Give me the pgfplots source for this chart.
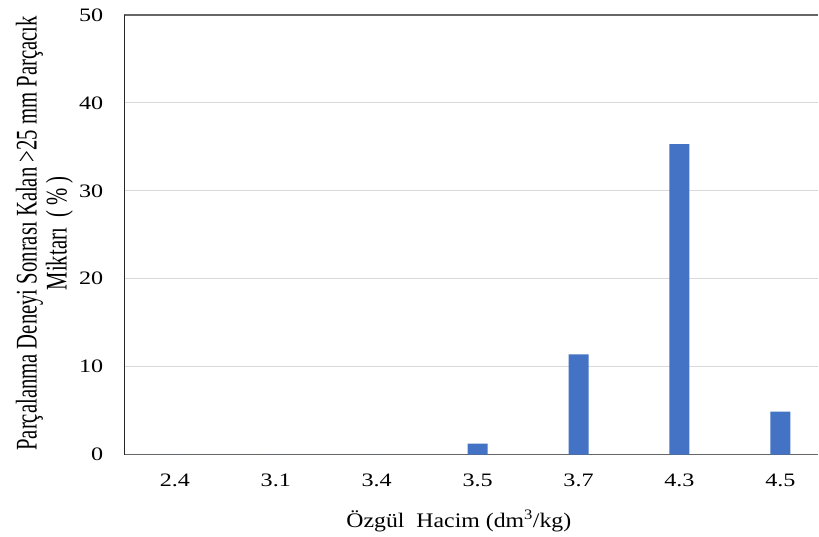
\documentclass[border=0pt]{standalone}
\usepackage{fontspec}
\setmainfont{Liberation Serif}
\newfontfamily\tickfont[FakeStretch=1.27]{Liberation Serif}
\newfontfamily\xlabfont[FakeStretch=1.15]{Liberation Serif}
\newfontfamily\ylabfont[FakeStretch=0.69]{Liberation Serif}
\usepackage{pgfplots}
\pgfplotsset{compat=1.18}
\definecolor{barblue}{HTML}{4472C4}
\begin{document}
\begin{tikzpicture}
\begin{axis}[
  scale only axis, width=694.5bp, height=440bp,
  xmin=-0.5, xmax=6.376, ymin=0, ymax=50,
  xtick={0,1,2,3,4,5,6},
  xticklabels={2.4,3.1,3.4,3.5,3.7,4.3,4.5},
  ytick={0,10,20,30,40,50},
  major tick length=0pt,
  axis x line=box, axis y line=left, separate axis lines,
  x axis line style={-, draw=black!60, line width=1.3bp},
  y axis line style={-, draw=black!85, line width=1bp},
  ymajorgrids, grid style={draw=black!15, line width=1bp},
  /pgf/number format/assume math mode=true,
  tick label style={font=\tickfont\fontsize{19bp}{22bp}\selectfont, inner sep=0pt},
  xticklabel style={anchor=north, yshift=-19bp},
  yticklabel style={anchor=east, xshift=-21bp},
  xlabel={Özgül\ \ Hacim (dm\textsuperscript{3}/kg)},
  xlabel style={font=\xlabfont\fontsize{20.7bp}{24bp}\selectfont, inner sep=0pt,
    at={([yshift=-72.7bp]axis description cs:0.482,0)}, anchor=base},
  ylabel={Parçalanma Deneyi Sonrası Kalan >25 mm Parçacık\\Miktarı\ \ (\,\%\,)},
  ylabel style={font=\ylabfont\fontsize{30bp}{30bp}\selectfont, align=center, inner sep=0pt,
    at={([xshift=-51.3bp]axis description cs:0,0.503)}, anchor=south, rotate=0},
]
\addplot[ybar, bar width=20bp, fill=barblue, draw=none]
  coordinates {(0,0) (1,0) (2,0) (3,1.25) (4,11.4) (5,35.3) (6,4.9)};
\end{axis}
\path (current axis.south west) ++(-124.5bp,-82bp) rectangle ([yshift=15bp]current axis.north east);
\end{tikzpicture}
\end{document}
